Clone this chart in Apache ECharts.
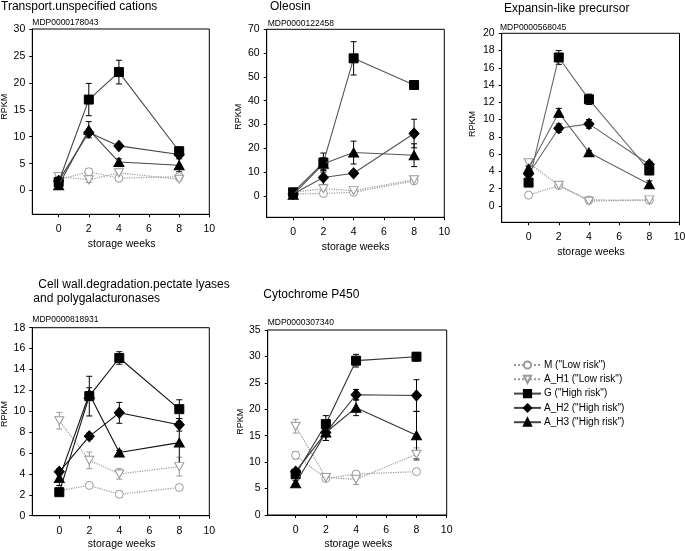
<!DOCTYPE html>
<html><head><meta charset="utf-8">
<script src="https://cdn.jsdelivr.net/npm/echarts@6/dist/echarts.min.js"></script>
<style>html,body{margin:0;padding:0;background:#fff}#c{width:685px;height:551px}</style>
</head><body><div id="c"></div>
<script>
// ---------- DATA ----------
const weeks = [0, 2, 4, 8];
const seriesNames = ['M ("Low risk")', 'A_H1 ("Low risk")', 'G ("High risk")', 'A_H2 ("High risk")', 'A_H3 ("High risk")'];
const panelTitles = [['Transport.unspecified cations'], ['Oleosin'], ['Expansin-like precursor'],
  [' Cell wall.degradation.pectate lyases', 'and polygalacturonases'], ['Cytochrome P450']];
const geneIds = ['MDP0000178043', 'MDP0000122458', 'MDP0000568045', 'MDP0000818931', 'MDP0000307340'];
const xTicks = [0, 2, 4, 6, 8, 10];
const yTicks1 = [0, 5, 10, 15, 20, 25, 30];
const yTicks2 = [0, 10, 20, 30, 40, 50, 60, 70];
const yTicks3 = [0, 2, 4, 6, 8, 10, 12, 14, 16, 18, 20];
const yTicks4 = [0, 2, 4, 6, 8, 10, 12, 14, 16, 18];
const yTicks5 = [0, 5, 10, 15, 20, 25, 30, 35];

// Transport.unspecified cations
const p1M = [2.0, 3.5, 2.3, 2.6],     p1MErr = [0.5, 0.6, 0.5, 0.4];
const p1H1 = [2.6, 2.0, 3.3, 2.1],    p1H1Err = [0.5, 0.5, 0.5, 0.3];
const p1G = [1.6, 16.9, 22.0, 7.3],   p1GErr = [1.3, 3.0, 2.2, 0.8];
const p1H2 = [1.8, 10.8, 8.3, 6.7],   p1H2Err = [0.8, 0.6, 0.5, 0.6];
const p1H3 = [1.0, 11.3, 5.3, 4.7],   p1H3Err = [0.6, 1.5, 0.6, 1.2];
// Oleosin
const p2M = [0.8, 1.0, 1.5, 6.3],     p2MErr = [0.3, 0.5, 0.5, 1.0];
const p2H1 = [1.5, 3.0, 2.2, 6.8],    p2H1Err = [0.5, 1.0, 0.5, 1.0];
const p2G = [1.5, 14.0, 57.8, 46.6],  p2GErr = [0.5, 4.0, 7.0, 1.0];
const p2H2 = [0.8, 7.7, 9.5, 26.2],   p2H2Err = [0.3, 3.0, 1.0, 6.0];
const p2H3 = [0.5, 13.5, 18.2, 17.1], p2H3Err = [0.3, 2.5, 4.8, 4.8];
// Expansin-like precursor
const p3M = [1.25, 2.35, 0.7, 0.65],  p3MErr = [0.2, 0.2, 0.2, 0.2];
const p3H1 = [5.0, 2.4, 0.55, 0.7],   p3H1Err = [0.3, 0.3, 0.3, 0.2];
const p3G = [2.7, 17.2, 12.35, 4.1],  p3GErr = [0.3, 0.8, 0.6, 0.4];
const p3H2 = [3.7, 9.0, 9.5, 4.8],    p3H2Err = [0.3, 0.5, 0.5, 0.3];
const p3H3 = [4.3, 10.8, 6.2, 2.5],   p3H3Err = [0.3, 0.5, 0.2, 0.4];
// Cell wall degradation
const p4M = [2.4, 2.9, 2.05, 2.7],    p4MErr = [0.2, 0.2, 0.3, 0.2];
const p4H1 = [9.1, 5.3, 4.0, 4.7],    p4H1Err = [0.8, 0.8, 0.5, 0.9];
const p4G = [2.25, 11.45, 15.1, 10.2], p4GErr = [0.3, 1.9, 0.6, 0.9];
const p4H2 = [4.2, 7.6, 9.85, 8.7],   p4H2Err = [0.3, 0.3, 1.0, 0.6];
const p4H3 = [3.6, 11.65, 6.05, 7.0], p4H3Err = [0.7, 0.6, 0.2, 2.0];
// Cytochrome P450
const p5M = [11.3, 6.9, 7.75, 8.2],   p5MErr = [0.7, 0.5, 0.5, 0.4];
const p5H1 = [16.8, 7.1, 6.75, 11.5], p5H1Err = [1.3, 0.6, 1.0, 1.2];
const p5G = [7.7, 17.2, 29.2, 29.95], p5GErr = [0.8, 1.6, 1.2, 0.8];
const p5H2 = [8.2, 15.6, 22.75, 22.6], p5H2Err = [0.6, 1.5, 1.0, 3.0];
const p5H3 = [6.0, 15.6, 20.3, 15.1], p5H3Err = [0.5, 1.5, 1.5, 4.5];

// ---------- LAYOUT / STYLE ----------
const FONT = "'Liberation Sans', Arial, Helvetica, sans-serif";
const panels = [
  { means: [p1M, p1H1, p1G, p1H2, p1H3], errs: [p1MErr, p1H1Err, p1GErr, p1H2Err, p1H3Err], yTicks: yTicks1,
    grid: { left: 32.3, top: 29, width: 177, height: 185.3 }, xMin: -1.75, yMin: -4.4, yMax: 30, hiColor: '#444',
    title: [[1, 6.5]], id: [32.3, 22.7], xName: [121.7, 244], yName: [4.5, 106.7] },
  { means: [p2M, p2H1, p2G, p2H2, p2H3], errs: [p2MErr, p2H1Err, p2GErr, p2H2Err, p2H3Err], yTicks: yTicks2,
    grid: { left: 266.7, top: 29.3, width: 177.6, height: 188 }, xMin: -1.75, yMin: -9, yMax: 70, hiColor: '#555',
    title: [[270, 6.3]], id: [267.7, 24], xName: [355.7, 246.7], yName: [238.3, 116.7] },
  { means: [p3M, p3H1, p3G, p3H2, p3H3], errs: [p3MErr, p3H1Err, p3GErr, p3H2Err, p3H3Err], yTicks: yTicks3,
    grid: { left: 501.7, top: 33.3, width: 177.8, height: 189 }, xMin: -1.78, yMin: -1.9, yMax: 20, hiColor: '#666',
    title: [[504, 9]], id: [500, 28], xName: [591, 251.7], yName: [472.5, 124] },
  { means: [p4M, p4H1, p4G, p4H2, p4H3], errs: [p4MErr, p4H1Err, p4GErr, p4H2Err, p4H3Err], yTicks: yTicks4,
    grid: { left: 32.3, top: 327.7, width: 177, height: 188 }, xMin: -1.8, yMin: 0, yMax: 18, hiColor: '#111',
    title: [[35, 285], [33.3, 298.3]], id: [32.3, 320], xName: [121.7, 544], yName: [4.5, 414] },
  { means: [p5M, p5H1, p5G, p5H2, p5H3], errs: [p5MErr, p5H1Err, p5GErr, p5H2Err, p5H3Err], yTicks: yTicks5,
    grid: { left: 267.7, top: 330, width: 179, height: 185 }, xMin: -1.85, yMin: 0, yMax: 35, hiColor: '#333',
    title: [[263.3, 295]], id: [267.7, 322.3], xName: [358.3, 544], yName: [241, 421.7] }
];
const downTri = 'path://M0,0 L10,0 L5,9 Z';
const markerStyles = [
  { symbol: 'circle', size: 8, fill: '#fff', stroke: '#999', low: true },
  { symbol: downTri, size: [9, 8], fill: '#fff', stroke: '#999', low: true },
  { symbol: 'rect', size: 9, fill: '#000', stroke: '#000', low: false },
  { symbol: 'diamond', size: [10, 11], fill: '#000', stroke: '#000', low: false },
  { symbol: 'triangle', size: [10, 9], fill: '#000', stroke: '#000', low: false }
];

const grid = [], xAxis = [], yAxis = [], series = [], graphic = [];
panels.forEach((p, i) => {
  grid.push(Object.assign({ show: true, borderColor: '#000', borderWidth: 1, backgroundColor: 'transparent', outerBoundsMode: 'none', containLabel: false }, p.grid));
  xAxis.push({
    type: 'value', gridIndex: i, min: p.xMin, max: 10,
    axisLine: { onZero: false, lineStyle: { color: '#000', width: 1 } },
    axisTick: { show: true, length: 3, customValues: xTicks, lineStyle: { color: '#000' } },
    axisLabel: { customValues: xTicks, color: '#000', fontSize: 10.5, fontFamily: FONT, margin: 9.5 },
    splitLine: { show: false }
  });
  yAxis.push({
    type: 'value', gridIndex: i, min: p.yMin, max: p.yMax,
    axisLine: { onZero: false, lineStyle: { color: '#000', width: 1 } },
    axisTick: { show: true, length: 3, customValues: p.yTicks, lineStyle: { color: '#000' } },
    axisLabel: { customValues: p.yTicks, color: '#000', fontSize: 10.5, fontFamily: FONT, margin: 7 },
    splitLine: { show: false }
  });
  // error bars
  p.means.forEach((m, s) => {
    const ms = markerStyles[s];
    series.push({
      type: 'custom', xAxisIndex: i, yAxisIndex: i, z: 1, silent: true,
      data: weeks.map((w, k) => [w, m[k], p.errs[s][k]]),
      encode: { x: 0, y: 1 },
      renderItem: (params, api) => {
        const x = api.value(0), y = api.value(1), e = api.value(2);
        const top = api.coord([x, y + e]), bot = api.coord([x, y - e]);
        const col = ms.low ? '#999' : '#000';
        const st = { stroke: col, lineWidth: 1 };
        return { type: 'group', children: [
          { type: 'line', shape: { x1: top[0], y1: top[1], x2: bot[0], y2: bot[1] }, style: st },
          { type: 'line', shape: { x1: top[0] - 3, y1: top[1], x2: top[0] + 3, y2: top[1] }, style: st },
          { type: 'line', shape: { x1: bot[0] - 3, y1: bot[1], x2: bot[0] + 3, y2: bot[1] }, style: st }
        ] };
      }
    });
  });
  p.means.forEach((m, s) => {
    const ms = markerStyles[s];
    series.push({
      type: 'line', name: seriesNames[s], xAxisIndex: i, yAxisIndex: i, z: 3 + s,
      data: weeks.map((w, k) => [w, m[k]]),
      symbol: ms.symbol, symbolSize: ms.size, showAllSymbol: true, animation: false,
      itemStyle: { color: ms.fill, borderColor: ms.stroke, borderWidth: 1, opacity: 1 },
      lineStyle: ms.low ? { color: '#999', width: 1.2, type: 'dotted' } : { color: p.hiColor, width: 1.1, type: 'solid' },
      emphasis: { disabled: true }
    });
  });
  // texts
  const titleLines = panelTitles[i];
  titleLines.forEach((t, j) => {
    graphic.push({ type: 'text', x: p.title[j][0], y: p.title[j][1], style: { text: t, font: '12px ' + FONT, fill: '#000', textAlign: 'left', textVerticalAlign: 'middle' } });
  });
  graphic.push({ type: 'text', x: p.id[0], y: p.id[1], style: { text: geneIds[i], font: '8.5px ' + FONT, fill: '#000', textAlign: 'left', textVerticalAlign: 'middle' } });
  graphic.push({ type: 'text', x: p.xName[0], y: p.xName[1], style: { text: 'storage weeks', font: '10.5px ' + FONT, fill: '#000', textAlign: 'center', textVerticalAlign: 'middle' } });
  graphic.push({ type: 'text', x: p.yName[0], y: p.yName[1], rotation: Math.PI / 2, style: { text: 'RPKM', font: '9px ' + FONT, fill: '#000', textAlign: 'center', textVerticalAlign: 'middle' } });
});

const chart = echarts.init(document.getElementById('c'), null, { renderer: 'canvas' });
chart.setOption({
  animation: false,
  backgroundColor: '#fff',
  grid, xAxis, yAxis, series, graphic,
  legend: {
    data: seriesNames, orient: 'vertical', left: 513, top: 359, padding: 0,
    itemWidth: 27, itemHeight: 9, itemGap: 2.3, selectedMode: false,
    textStyle: { fontSize: 10, fontFamily: FONT, color: '#000', padding: [0, 0, 0, -2], lineHeight: 12 }
  }
});
</script></body></html>
